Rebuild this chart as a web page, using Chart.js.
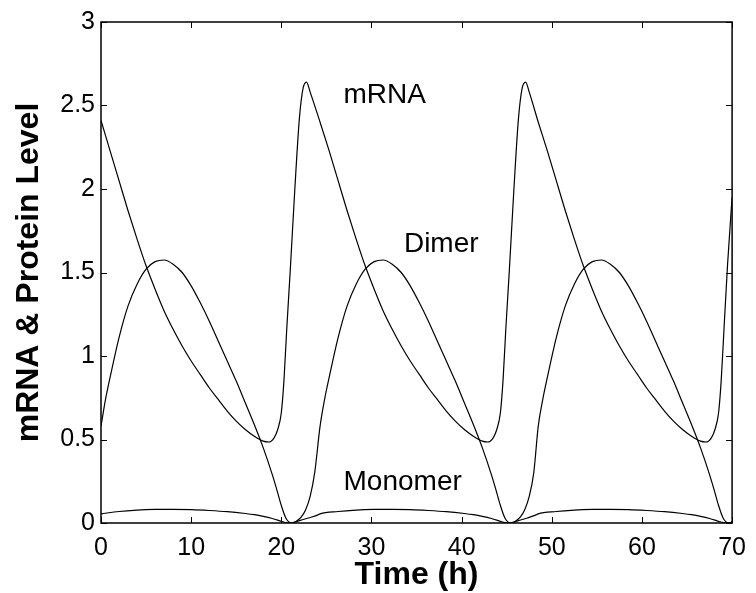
<!DOCTYPE html>
<html>
<head>
<meta charset="utf-8">
<script src="https://cdn.jsdelivr.net/npm/chart.js@4.4.1/dist/chart.umd.min.js"></script>
<style>
html, body { margin: 0; padding: 0; background: #fff; }
</style>
</head>
<body>
<canvas id="c" width="756" height="593"></canvas>
<script>
// tick labels
const xTicks = [0, 10, 20, 30, 40, 50, 60, 70];
const yTicks = [0, 0.5, 1, 1.5, 2, 2.5, 3];

// mRNA (three cycles)
const mrnaTime = [
  0, 1, 2, 3, 4, 5, 6, 7, 8, 9, 10, 11, 12, 13, 14, 15, 16, 17, 18, 18.6, 19.2, 19.6, 20.0, 20.3, 20.6, 21.0, 21.5, 22.0, 22.4, 22.8, 23.2,
  24.3, 25.3, 26.3, 27.3, 28.3, 29.3, 30.3, 31.3, 32.3, 33.3, 34.3, 35.3, 36.3, 37.3, 38.3, 39.3, 40.3, 41.3, 42.3, 42.9, 43.5, 43.9, 44.3, 44.6, 44.9, 45.3, 45.8, 46.3, 46.7, 47.1, 47.5,
  48.5, 49.5, 50.5, 51.5, 52.5, 53.5, 54.5, 55.5, 56.5, 57.5, 58.5, 59.5, 60.5, 61.5, 62.5, 63.5, 64.5, 65.5, 66.5, 67.1, 67.7, 68.1, 68.5, 68.8, 69.1, 69.5, 70
];
const mrnaLevel = [
  2.41, 2.23, 2.05, 1.87, 1.70, 1.54, 1.40, 1.27, 1.16, 1.06, 0.97, 0.89, 0.81, 0.74, 0.67, 0.61, 0.56, 0.52, 0.49, 0.485, 0.51, 0.56, 0.66, 0.86, 1.16, 1.52, 2.00, 2.42, 2.60, 2.64, 2.58,
  2.40, 2.23, 2.05, 1.87, 1.70, 1.54, 1.40, 1.27, 1.16, 1.06, 0.97, 0.89, 0.81, 0.74, 0.67, 0.61, 0.56, 0.52, 0.49, 0.485, 0.51, 0.56, 0.66, 0.86, 1.16, 1.52, 2.00, 2.42, 2.60, 2.64, 2.58,
  2.40, 2.23, 2.05, 1.87, 1.70, 1.54, 1.40, 1.27, 1.16, 1.06, 0.97, 0.89, 0.81, 0.74, 0.67, 0.61, 0.56, 0.52, 0.49, 0.485, 0.51, 0.56, 0.66, 0.86, 1.16, 1.55, 1.95
];

// Dimer
const dimerTime = [
  0, 0.5, 1, 2, 3, 4, 5, 6, 7, 8, 9, 10, 11, 12, 13, 14, 15, 16, 17, 18, 19, 19.5, 20, 20.5, 20.8, 21.2, 21.7, 22.2, 22.7, 23.2, 23.7,
  24.3, 24.8, 25.3, 26.3, 27.3, 28.3, 29.3, 30.3, 31.3, 32.3, 33.3, 34.3, 35.3, 36.3, 37.3, 38.3, 39.3, 40.3, 41.3, 42.3, 43.3, 43.8, 44.3, 44.8, 45.1, 45.5, 46.0, 46.5, 47.0, 47.5, 48.0,
  48.5, 49.0, 49.5, 50.5, 51.5, 52.5, 53.5, 54.5, 55.5, 56.5, 57.5, 58.5, 59.5, 60.5, 61.5, 62.5, 63.5, 64.5, 65.5, 66.5, 67.5, 68.0, 68.5, 69.0, 69.3, 69.7, 70
];
const dimerLevel = [
  0.58, 0.74, 0.87, 1.11, 1.30, 1.43, 1.52, 1.565, 1.575, 1.55, 1.50, 1.42, 1.32, 1.21, 1.09, 0.97, 0.85, 0.72, 0.59, 0.45, 0.29, 0.20, 0.105, 0.03, 0.008, 0.0, 0.012, 0.035, 0.08, 0.16, 0.30,
  0.58, 0.74, 0.87, 1.11, 1.30, 1.43, 1.52, 1.565, 1.575, 1.55, 1.50, 1.42, 1.32, 1.21, 1.09, 0.97, 0.85, 0.72, 0.59, 0.45, 0.29, 0.20, 0.105, 0.03, 0.008, 0.0, 0.012, 0.035, 0.08, 0.16, 0.30,
  0.58, 0.74, 0.87, 1.11, 1.30, 1.43, 1.52, 1.565, 1.575, 1.55, 1.50, 1.42, 1.32, 1.21, 1.09, 0.97, 0.85, 0.72, 0.59, 0.45, 0.29, 0.20, 0.105, 0.03, 0.008, 0.0, 0.008
];

// Monomer
const monoTime = [
  0, 2, 4, 6, 8, 10, 12, 14, 16, 17, 18, 19, 20, 20.5, 21, 21.5, 22, 23, 24,
  24.3, 26.3, 28.3, 30.3, 32.3, 34.3, 36.3, 38.3, 40.3, 41.3, 42.3, 43.3, 44.3, 44.8, 45.3, 45.8, 46.3, 47.3, 48.2,
  48.5, 50.5, 52.5, 54.5, 56.5, 58.5, 60.5, 62.5, 64.5, 65.5, 66.5, 67.5, 68.5, 69.0, 69.5, 70
];
const monoLevel = [
  0.055, 0.069, 0.077, 0.081, 0.082, 0.080, 0.075, 0.068, 0.057, 0.050, 0.040, 0.027, 0.010, 0.002, 0.0, 0.006, 0.014, 0.030, 0.047,
  0.055, 0.069, 0.077, 0.081, 0.082, 0.080, 0.075, 0.068, 0.057, 0.050, 0.040, 0.027, 0.010, 0.002, 0.0, 0.006, 0.014, 0.030, 0.047,
  0.055, 0.069, 0.077, 0.081, 0.082, 0.080, 0.075, 0.068, 0.057, 0.050, 0.040, 0.027, 0.010, 0.002, 0.0, 0.004
];

// text labels placed next to the curves (data coords)
const curveLabels = [
  { text: "mRNA", x: 26.9, y: 2.56 },
  { text: "Dimer", x: 33.6, y: 1.67 },
  { text: "Monomer", x: 26.9, y: 0.245 }
];

const FONT = "'Liberation Sans', Arial, Helvetica, sans-serif";

function toPoints(ts, vs) {
  return ts.map((t, i) => ({ x: t, y: vs[i] }));
}

function lineSet(label, ts, vs) {
  return {
    label: label,
    data: toPoints(ts, vs),
    borderColor: "#000",
    borderWidth: 1.2,
    pointRadius: 0,
    fill: false,
    cubicInterpolationMode: "monotone"
  };
}

// box around the plot + inward ticks on all four sides, plus curve labels
const matlabBox = {
  id: "matlabBox",
  afterDraw(chart) {
    const ctx = chart.ctx;
    const a = chart.chartArea;
    const xs = chart.scales.x, ys = chart.scales.y;
    const len = 6;
    ctx.save();
    ctx.strokeStyle = "#000";
    ctx.lineWidth = 1;
    ctx.beginPath();
    xTicks.forEach(v => {
      const px = Math.round(xs.getPixelForValue(v)) + 0.5;
      ctx.moveTo(px, a.bottom); ctx.lineTo(px, a.bottom - len);
      ctx.moveTo(px, a.top); ctx.lineTo(px, a.top + len);
    });
    yTicks.forEach(v => {
      const py = Math.round(ys.getPixelForValue(v)) + 0.5;
      ctx.moveTo(a.left, py); ctx.lineTo(a.left + len, py);
      ctx.moveTo(a.right, py); ctx.lineTo(a.right - len, py);
    });
    ctx.stroke();
    ctx.lineWidth = 1.5;
    ctx.strokeRect(a.left, a.top, a.right - a.left, a.bottom - a.top);

    ctx.fillStyle = "#000";
    ctx.font = "28px " + FONT;
    ctx.textAlign = "left";
    ctx.textBaseline = "middle";
    curveLabels.forEach(l => {
      ctx.fillText(l.text, xs.getPixelForValue(l.x), ys.getPixelForValue(l.y));
    });
    ctx.restore();
  }
};

new Chart(document.getElementById("c").getContext("2d"), {
  type: "line",
  data: {
    datasets: [
      lineSet("mRNA", mrnaTime, mrnaLevel),
      lineSet("Dimer", dimerTime, dimerLevel),
      lineSet("Monomer", monoTime, monoLevel)
    ]
  },
  options: {
    responsive: false,
    animation: false,
    layout: { padding: { top: 22, right: 15, left: 0, bottom: 0 } },
    plugins: { legend: { display: false }, tooltip: { enabled: false } },
    scales: {
      x: {
        type: "linear",
        min: 0,
        max: 70,
        afterBuildTicks: s => { s.ticks = xTicks.map(v => ({ value: v })); },
        afterFit: s => { s.height = 70; },
        grid: { display: false, drawTicks: false },
        border: { display: false },
        ticks: { color: "#000", font: { family: FONT, size: 25 }, padding: 10, maxRotation: 0, callback: v => String(v) },
        title: {
          display: true,
          text: "Time (h)",
          color: "#000",
          font: { family: FONT, size: 32, weight: "bold", lineHeight: 1.1 },
          padding: { top: 0, bottom: 0 }
        }
      },
      y: {
        type: "linear",
        min: 0,
        max: 3,
        afterBuildTicks: s => { s.ticks = yTicks.map(v => ({ value: v })); },
        afterFit: s => { s.width = 101; },
        grid: { display: false, drawTicks: false },
        border: { display: false },
        ticks: { color: "#000", font: { family: FONT, size: 25 }, padding: 6, callback: v => String(v) },
        title: {
          display: true,
          text: "mRNA & Protein Level",
          color: "#000",
          font: { family: FONT, size: 32, weight: "bold", lineHeight: 1.2 },
          padding: { top: 10, bottom: 0 }
        }
      }
    }
  },
  plugins: [matlabBox]
});
</script>
</body>
</html>
